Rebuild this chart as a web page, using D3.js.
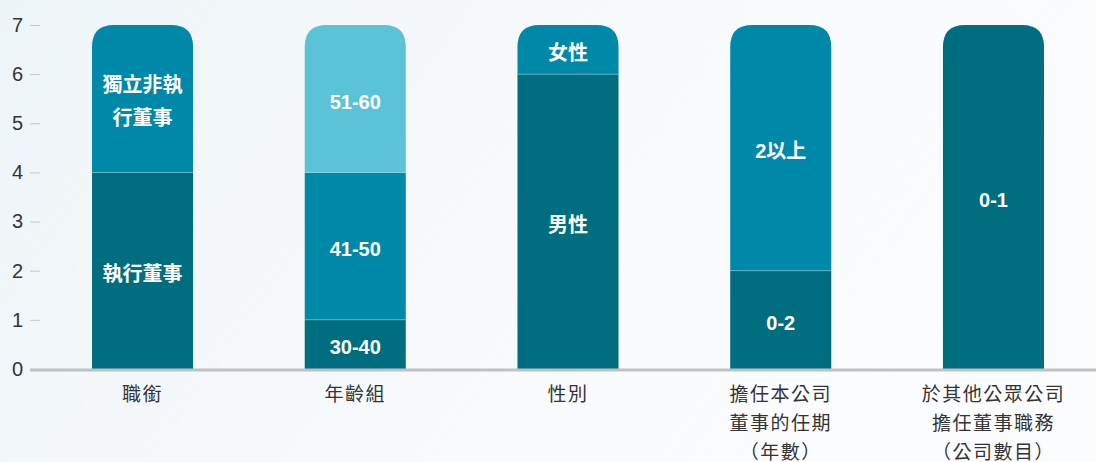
<!DOCTYPE html>
<html>
<head>
<meta charset="utf-8">
<script src="https://cdn.jsdelivr.net/npm/d3@7"></script>
<style>
  html, body { margin: 0; padding: 0; }
  body { width: 1096px; height: 462px; overflow: hidden; }
  svg { display: block; font-family: "Noto Sans CJK TC", "Noto Sans", sans-serif; }
</style>
</head>
<body>
<svg id="chart" width="1096" height="462"></svg>
<script>
// categories (x axis), each label split into lines
const categories = ['職銜', '年齡組', '性別', '任期', '其他公司'];
const categoryLines = [
  ['職銜'],
  ['年齡組'],
  ['性別'],
  ['擔任本公司', '董事的任期', '（年數）'],
  ['於其他公眾公司', '擔任董事職務', '（公司數目）'],
];

// stacked segments per category, bottom to top
const segLabels = [
  [['執行董事'], ['獨立非執', '行董事']],
  [['30-40'], ['41-50'], ['51-60']],
  [['男性'], ['女性']],
  [['0-2'], ['2以上']],
  [['0-1']],
];
const segValues = [
  [4, 3],
  [1, 3, 3],
  [6, 1],
  [2, 5],
  [7],
];
const segColors = [
  ['dark', 'mid'],
  ['dark', 'mid', 'light'],
  ['dark', 'mid'],
  ['dark', 'mid'],
  ['dark'],
];

const yTicks = [0, 1, 2, 3, 4, 5, 6, 7];

const COLORS = { dark: '#006e7e', mid: '#0088a8', light: '#5bc3d5' };
const TEXT = '#333333';

const svg = d3.select('#chart');
const width = 1096, height = 462;

// background
const defs = svg.append('defs');
const bg = defs.append('linearGradient').attr('id', 'bg')
  .attr('x1', 0).attr('y1', 0).attr('x2', 1).attr('y2', 0.3);
bg.append('stop').attr('offset', '0%').attr('stop-color', '#edf4f7');
bg.append('stop').attr('offset', '45%').attr('stop-color', '#f6f9fb');
bg.append('stop').attr('offset', '100%').attr('stop-color', '#fbfcfd');
svg.append('rect').attr('width', width).attr('height', height).attr('fill', 'url(#bg)');

const x = d3.scaleBand()
  .domain(categories)
  .range([92, 1044])
  .paddingInner(0.525)
  .paddingOuter(0);

const y = d3.scaleLinear()
  .domain([0, 7])
  .range([369, 25]);

// y axis
const yAxis = d3.axisLeft(y).tickValues(yTicks).tickFormat(d3.format('d'))
  .tickSize(10).tickPadding(7);
const yAxisEl = svg.append('g')
  .attr('transform', 'translate(40,0)')
  .call(yAxis);
yAxisEl.select('.domain').remove();
yAxisEl.selectAll('line').attr('stroke', '#c4c8ca').attr('stroke-width', 1);
yAxisEl.selectAll('text')
  .attr('fill', TEXT)
  .style('font-family', '"Liberation Sans", Arial, sans-serif')
  .style('font-size', '20px');

// bars
const barW = x.bandwidth();
const radius = 22;

function segPath(x0, w, y0, y1, rounded) {
  if (!rounded) return `M${x0},${y0}H${x0 + w}V${y1}H${x0}Z`;
  const r = Math.min(radius, (y0 - y1));
  return `M${x0},${y0}V${y1 + r}Q${x0},${y1} ${x0 + r},${y1}H${x0 + w - r}` +
    `Q${x0 + w},${y1} ${x0 + w},${y1 + r}V${y0}Z`;
}

categories.forEach((cat, ci) => {
  const g = svg.append('g');
  let acc = 0;
  const vals = segValues[ci];
  vals.forEach((v, si) => {
    const lo = acc, hi = acc + v;
    acc = hi;
    const top = si === vals.length - 1;
    g.append('path')
      .attr('d', segPath(x(cat), barW, y(lo), y(hi), top))
      .attr('fill', COLORS[segColors[ci][si]]);
    const lines = segLabels[ci][si];
    const cy = y((lo + hi) / 2) + 3;
    const lh = 33;
    lines.forEach((t, li) => {
      g.append('text')
        .attr('x', x(cat) + barW / 2)
        .attr('y', cy + (li - (lines.length - 1) / 2) * lh)
        .attr('text-anchor', 'middle')
        .attr('dominant-baseline', 'central')
        .attr('fill', '#ffffff')
        .style('font-family', '"Liberation Sans", "Noto Sans CJK TC", sans-serif')
        .style('font-weight', '700')
        .style('font-size', '20px')
        .text(t);
    });
    if (si > 0) {
      g.append('line')
        .attr('x1', x(cat)).attr('x2', x(cat) + barW)
        .attr('y1', y(lo)).attr('y2', y(lo))
        .attr('stroke', 'rgba(255,255,255,0.25)').attr('stroke-width', 1);
    }
  });
});

// baseline
svg.append('line')
  .attr('x1', 30).attr('x2', width)
  .attr('y1', y(0) + 1).attr('y2', y(0) + 1)
  .attr('stroke', '#bfc2c4').attr('stroke-width', 3);

// x labels
categories.forEach((cat, ci) => {
  categoryLines[ci].forEach((t, li) => {
    svg.append('text')
      .attr('x', x(cat) + barW / 2)
      .attr('y', 392 + li * 29)
      .attr('text-anchor', 'middle')
      .attr('dominant-baseline', 'central')
      .attr('fill', TEXT)
      .style('font-size', '19px')
      .style('letter-spacing', '1.5px')
      .text(t);
  });
});
</script>
</body>
</html>
